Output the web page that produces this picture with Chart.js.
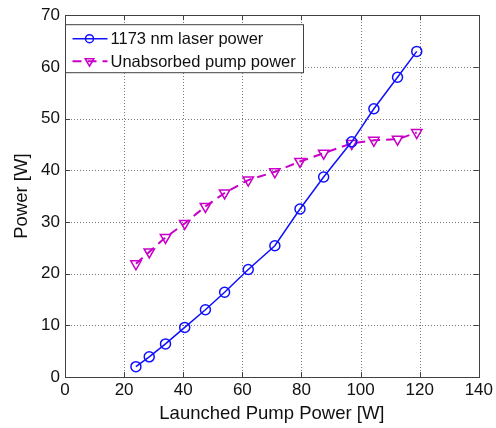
<!DOCTYPE html>
<html>
<head>
<meta charset="utf-8">
<script src="https://cdn.jsdelivr.net/npm/chart.js@4"></script>
<style>
  html, body { margin: 0; padding: 0; background: #fff; }
  #wrap { width: 496px; height: 428px; }
</style>
</head>
<body>
<div id="wrap"><canvas id="myChart" width="496" height="428"></canvas></div>
<script>
// datos
const potenciaBombeo = [24, 28.5, 34, 40.5, 47.5, 54, 62, 71, 79.5, 87.5, 97, 104.5, 112.5, 119]
const potenciaLaser = [2, 3.9, 6.4, 9.6, 13, 16.4, 20.8, 25.4, 32.5, 38.7, 45.5, 51.9, 58, 63]
const bombeoNoAbsorbido = [21.9, 24.2, 27, 29.7, 33, 35.6, 38.1, 39.7, 41.7, 43.3, 45.2, 45.8, 46, 47.3]
const etiquetas = ['1173 nm laser power', 'Unabsorbed pump power']
const ejeX = { min: 0, max: 140, paso: 20, titulo: 'Launched Pump Power [W]' }
const ejeY = { min: 0, max: 70, paso: 10, titulo: 'Power [W]' }

const azul = '#1010ff'
const magenta = '#c800c8'
const fuente = "'Liberation Sans', Arial, sans-serif"

const puntos = (ys) => potenciaBombeo.map((x, i) => ({ x: x, y: ys[i] }))

// grilla punteada y caja de ejes estilo matlab
const grillaPunteada = {
    id: 'grillaPunteada',
    beforeDatasetsDraw(chart) {
        const { ctx, chartArea: a, scales } = chart
        ctx.save()
        ctx.strokeStyle = '#7a7a7a'
        ctx.lineWidth = 1
        ctx.setLineDash([1, 2])
        ctx.beginPath()
        scales.x.ticks.forEach(t => {
            if (t.value === scales.x.min || t.value === scales.x.max) return
            const px = Math.round(scales.x.getPixelForValue(t.value)) + 0.5
            ctx.moveTo(px, a.bottom); ctx.lineTo(px, a.top)
        })
        scales.y.ticks.forEach(t => {
            if (t.value === scales.y.min || t.value === scales.y.max) return
            const py = Math.round(scales.y.getPixelForValue(t.value)) + 0.5
            ctx.moveTo(a.left, py); ctx.lineTo(a.right, py)
        })
        ctx.stroke()
        ctx.restore()
    },
    afterDatasetsDraw(chart) {
        const { ctx, chartArea: a, scales } = chart
        const largo = 5
        ctx.save()
        ctx.strokeStyle = '#404040'
        ctx.lineWidth = 1
        ctx.beginPath()
        scales.x.ticks.forEach(t => {
            const px = Math.round(scales.x.getPixelForValue(t.value)) + 0.5
            ctx.moveTo(px, a.bottom); ctx.lineTo(px, a.bottom - largo)
            ctx.moveTo(px, a.top); ctx.lineTo(px, a.top + largo)
        })
        scales.y.ticks.forEach(t => {
            const py = Math.round(scales.y.getPixelForValue(t.value)) + 0.5
            ctx.moveTo(a.left, py); ctx.lineTo(a.left + largo, py)
            ctx.moveTo(a.right, py); ctx.lineTo(a.right - largo, py)
        })
        ctx.stroke()
        ctx.strokeRect(Math.round(a.left) + 0.5, Math.round(a.top) + 0.5,
            Math.round(a.right - a.left), Math.round(a.bottom - a.top))
        ctx.restore()
    }
}

// leyenda dibujada a mano dentro del area
const leyenda = {
    id: 'leyenda',
    afterDraw(chart) {
        const { ctx, chartArea: a } = chart
        const x0 = Math.round(a.left) + 0.5
        const y0 = a.top + 9.5
        const w = 238, h = 48
        ctx.save()
        ctx.fillStyle = '#fff'
        ctx.fillRect(x0, y0, w, h)
        ctx.strokeStyle = '#404040'
        ctx.lineWidth = 1
        ctx.strokeRect(x0, y0, w, h)
        chart.data.datasets.forEach((ds, i) => {
            const cy = y0 + 14 + i * 22.5
            ctx.strokeStyle = ds.borderColor
            ctx.lineWidth = ds.borderWidth
            ctx.setLineDash(ds.borderDash || [])
            ctx.beginPath()
            ctx.moveTo(x0 + 7, cy); ctx.lineTo(x0 + 42, cy)
            ctx.stroke()
            ctx.setLineDash([])
            ctx.lineWidth = ds.pointBorderWidth
            ctx.fillStyle = 'rgba(0,0,0,0)'
            Chart.helpers.drawPoint(ctx, {
                pointStyle: ds.pointStyle,
                rotation: ds.pointRotation || 0,
                radius: ds.pointRadius - 1,
                borderWidth: ds.pointBorderWidth
            }, x0 + 24, cy)
            ctx.fillStyle = '#111'
            ctx.font = '16.5px ' + fuente
            ctx.textBaseline = 'middle'
            ctx.fillText(ds.label, x0 + 45, cy + 1)
        })
        ctx.restore()
    }
}

new Chart(document.querySelector('#myChart'), {
    type: 'line',
    data: {
        datasets: [
            {
                label: etiquetas[0],
                data: puntos(potenciaLaser),
                borderColor: azul,
                backgroundColor: 'rgba(0,0,0,0)',
                borderWidth: 1.5,
                pointStyle: 'circle',
                pointRadius: 5,
                pointBorderWidth: 1.5,
                pointBorderColor: azul,
                pointBackgroundColor: 'rgba(0,0,0,0)',
                tension: 0
            },
            {
                label: etiquetas[1],
                data: puntos(bombeoNoAbsorbido),
                borderColor: magenta,
                backgroundColor: 'rgba(0,0,0,0)',
                borderWidth: 2,
                borderDash: [9, 6],
                pointStyle: 'triangle',
                pointRotation: 180,
                pointRadius: 6,
                pointBorderWidth: 1.5,
                pointBorderColor: magenta,
                pointBackgroundColor: 'rgba(0,0,0,0)',
                tension: 0
            }
        ]
    },
    options: {
        responsive: false,
        animation: false,
        layout: { padding: { top: 15, right: 15, left: 0, bottom: 0 } },
        plugins: { legend: { display: false }, tooltip: { enabled: false } },
        scales: {
            x: {
                type: 'linear',
                min: ejeX.min, max: ejeX.max,
                afterFit: (s) => { s.height = 51 },
                ticks: { stepSize: ejeX.paso, color: '#111', font: { size: 17, family: fuente }, padding: 3, maxRotation: 0 },
                grid: { display: false, drawTicks: false },
                border: { display: false },
                title: { display: true, text: ejeX.titulo, color: '#111', font: { size: 18.5, family: fuente }, padding: { top: 0, bottom: 3 } }
            },
            y: {
                type: 'linear',
                min: ejeY.min, max: ejeY.max,
                afterFit: (s) => { s.width = 65 },
                ticks: { stepSize: ejeY.paso, color: '#111', font: { size: 17, family: fuente }, padding: 5 },
                grid: { display: false, drawTicks: false },
                border: { display: false },
                title: { display: true, text: ejeY.titulo, color: '#111', font: { size: 18.5, family: fuente }, padding: { top: 11, bottom: 0 } }
            }
        }
    },
    plugins: [grillaPunteada, leyenda]
})
</script>
</body>
</html>
